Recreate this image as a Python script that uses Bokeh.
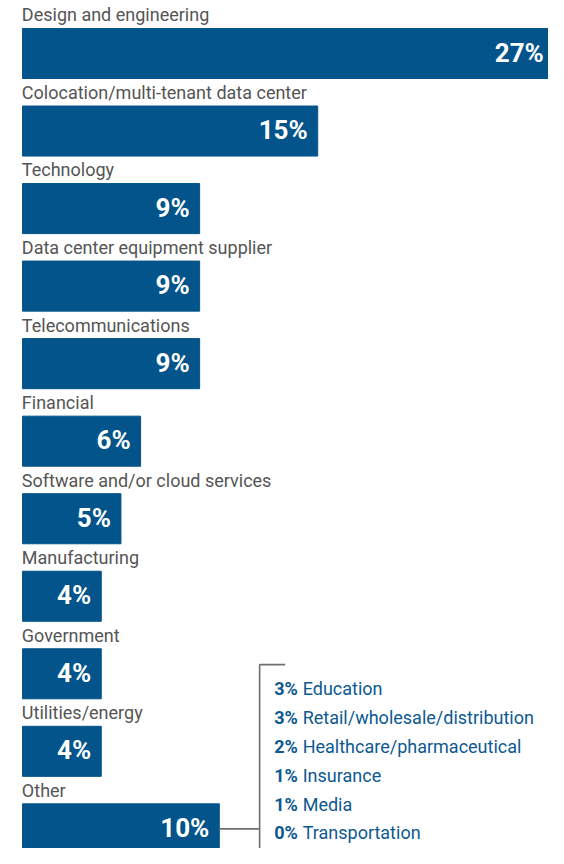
from bokeh.plotting import figure
from bokeh.models import ColumnDataSource, Range1d
from bokeh.core.properties import value
from bokeh.embed import file_html
from bokeh.resources import INLINE

categories = [
    "Design and engineering",
    "Colocation/multi-tenant data center",
    "Technology",
    "Data center equipment supplier",
    "Telecommunications",
    "Financial",
    "Software and/or cloud services",
    "Manufacturing",
    "Government",
    "Utilities/energy",
    "Other",
]
shares = [27, 15, 9, 9, 9, 6, 5, 4, 4, 4, 10]

other_names = [
    "Education",
    "Retail/wholesale/distribution",
    "Healthcare/pharmaceutical",
    "Insurance",
    "Media",
    "Transportation",
]
other_shares = [3, 3, 2, 1, 1, 0]

BAR = "#02548a"
LABEL = "#555555"
BLUE = "#0d5990"
LINE = "#6f6f6f"
FONT = "Roboto"

W, H = 548, 848
SX, SY = W / 564, H / 864          # layout measured on a 564x864 frame

scale = 20.25 * SX                 # px per percent
left_px = 22.7 * SX
x0 = -left_px / scale
pitch = 79.0 * SY                  # px per row
c0 = 54.0 * SY                     # px of first bar centre from top

p = figure(width=W, height=H, output_backend="svg", toolbar_location=None,
           x_range=Range1d(x0, x0 + W / scale),
           y_range=Range1d((H - c0) / pitch, -c0 / pitch),
           min_border=0)
p.axis.visible = False
p.grid.visible = False
p.outline_line_color = None
p.background_fill_color = "white"


def px_x(v):
    return x0 + v / scale


def px_y(v):
    return (v - c0) / pitch


idx = list(range(len(categories)))
lab_dy = -(37.3 * SY + 2) / pitch
src = ColumnDataSource(dict(
    y=idx, right=shares, cat=categories,
    lab=[f"{v}%" for v in shares],
    ylab=[i + lab_dy for i in idx],
    yval=[i - 1.0 / pitch for i in idx],
))

p.hbar(y="y", left=0, right="right", height=51 * SY / pitch, color=BAR, source=src)

p.text(x=px_x(left_px - 0.7), y="ylab", text="cat", source=src, text_font=value(FONT),
       text_font_size="18px", text_color=LABEL, text_baseline="middle",
       text_align="left")

p.text(x="right", y="yval", text="lab", source=src, text_font=value(FONT),
       text_font_size="26px", text_font_style="bold", text_color="white",
       text_baseline="middle", text_align="right", x_offset=-10)

# breakdown of "Other"
other_row = len(categories) - 1
bx = px_x(266.7 * SX)
tick_end = px_x(293 * SX)
ytop = px_y(676.7 * SY)
p.line(x=[tick_end, bx, bx], y=[ytop, ytop, other_row + 1], color=LINE, line_width=1.6)
p.line(x=[shares[-1], bx], y=[other_row, other_row], color=LINE, line_width=1.6)

oy = [px_y((700.3 + k * 29.35) * SY + 1) for k in range(len(other_names))]
osrc = ColumnDataSource(dict(
    y=oy, pct=[f"{v}%" for v in other_shares], name=other_names,
))
p.text(x=px_x(281.7 * SX), y="y", text="pct", source=osrc, text_font=value(FONT),
       text_font_size="18px", text_font_style="bold", text_color=BLUE,
       text_baseline="middle", text_align="left")
p.text(x=px_x(311 * SX), y="y", text="name", source=osrc, text_font=value(FONT),
       text_font_size="18px", text_color=BLUE,
       text_baseline="middle", text_align="left")

open("out.html", "w").write(file_html(p, INLINE))
